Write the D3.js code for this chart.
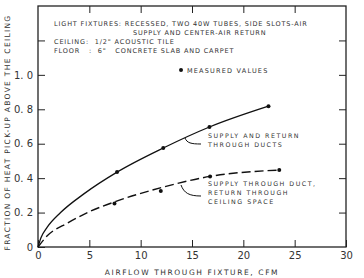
<!DOCTYPE html>
<html>
<head>
<meta charset="utf-8">
<script src="https://cdn.jsdelivr.net/npm/d3@7"></script>
<style>
  body { margin: 0; background: #fff; }
  svg text { font-family: "DejaVu Sans", sans-serif; fill: #333; }
</style>
</head>
<body>
<svg width="364" height="278"></svg>
<script>
// values
const xTicks = [0, 5, 10, 15, 20, 25, 30];
const yTicks = [0, 0.2, 0.4, 0.6, 0.8, 1.0, 1.2];
const yLabels = ['0', '0. 2', '0. 4', '0. 6', '0. 8', '1. 0', ''];

// supply and return through ducts
const ductCurveX = [0, 0.3, 0.9, 2.2, 4.5, 7.7, 12.2, 16.7, 22.45];
const ductCurveY = [0, 0.055, 0.115, 0.2, 0.31, 0.435, 0.575, 0.697, 0.818];
const ductPtsX = [7.7, 12.2, 16.7, 22.45];
const ductPtsY = [0.435, 0.575, 0.697, 0.818];

// supply through duct, return through ceiling space
const plenumCurveX = [0, 0.9, 2.9, 5, 7.45, 12, 16.76, 23.5];
const plenumCurveY = [0, 0.065, 0.14, 0.205, 0.262, 0.345, 0.41, 0.447];
const plenumPtsX = [7.45, 11.96, 16.76, 23.5];
const plenumPtsY = [0.253, 0.325, 0.41, 0.447];

const noteLines = [
  'LIGHT FIXTURES: RECESSED, TWO 40W TUBES, SIDE SLOTS-AIR',
  'SUPPLY AND CENTER-AIR RETURN',
  'CEILING:  1/2" ACOUSTIC TILE',
  'FLOOR   :  6"   CONCRETE SLAB AND CARPET'
];

const svg = d3.select('svg');
const m = {left: 38, right: 18, top: 6, bottom: 31};
const w = +svg.attr('width') - m.left - m.right;
const h = +svg.attr('height') - m.top - m.bottom;

const x = d3.scaleLinear().domain([0, 30]).range([0, w]);
const y = d3.scaleLinear().domain([0, 1.4]).range([h, 0]);

const g = svg.append('g').attr('transform', `translate(${m.left},${m.top})`);

// inward ticks on all four sides
const styleAxis = sel => {
  sel.select('.domain').remove();
  sel.selectAll('line').attr('stroke', '#222').attr('stroke-width', 1);
  sel.selectAll('text').style('font-size', '10px').attr('fill', '#333');
};

g.append('g').attr('transform', `translate(0,${h})`)
  .call(d3.axisBottom(x).tickValues(xTicks).tickSize(-7).tickPadding(5).tickFormat(d3.format('d')))
  .call(styleAxis);
g.append('g')
  .call(d3.axisTop(x).tickValues(xTicks.slice(1, -1)).tickSize(-7).tickFormat(''))
  .call(styleAxis);
g.append('g')
  .call(d3.axisLeft(y).tickValues(yTicks).tickSize(-7).tickPadding(5).tickFormat((d, i) => yLabels[i]))
  .call(styleAxis);
g.append('g').attr('transform', `translate(${w},0)`)
  .call(d3.axisRight(y).tickValues(yTicks.slice(1)).tickSize(-7).tickFormat(''))
  .call(styleAxis);

g.append('rect')
  .attr('width', w).attr('height', h)
  .attr('fill', 'none').attr('stroke', '#222').attr('stroke-width', 1.3);

// curves
const line = d3.line()
  .x(d => x(d[0])).y(d => y(d[1]))
  .curve(d3.curveMonotoneX);

g.append('path')
  .datum(d3.zip(ductCurveX, ductCurveY))
  .attr('d', line)
  .attr('fill', 'none').attr('stroke', '#111').attr('stroke-width', 1.3);

g.append('path')
  .datum(d3.zip(plenumCurveX, plenumCurveY))
  .attr('d', line)
  .attr('fill', 'none').attr('stroke', '#111').attr('stroke-width', 1.4)
  .attr('stroke-dasharray', '9,4');

const pts = d3.zip(ductPtsX, ductPtsY).concat(d3.zip(plenumPtsX, plenumPtsY));
g.selectAll('circle.pt')
  .data(pts)
  .enter().append('circle')
    .attr('class', 'pt')
    .attr('cx', d => x(d[0]))
    .attr('cy', d => y(d[1]))
    .attr('r', 2)
    .attr('fill', '#111');

// legend
g.append('circle')
  .attr('cx', x(13.93)).attr('cy', y(1.028)).attr('r', 2).attr('fill', '#111');
g.append('text')
  .attr('x', x(13.93) + 6).attr('y', y(1.028) + 2.5)
  .style('font-size', '6.5px').style('letter-spacing', '1.2px')
  .text('MEASURED VALUES');

// header notes
const notes = g.append('g').style('font-size', '6.5px').style('letter-spacing', '0.85px');
notes.append('text').attr('x', 16).attr('y', 20).text(noteLines[0]);
notes.append('text').attr('x', 95).attr('y', 29).text(noteLines[1]);
notes.append('text').attr('x', 16).attr('y', 38).text(noteLines[2]).attr('xml:space', 'preserve');
notes.append('text').attr('x', 16).attr('y', 46.5).text(noteLines[3]).attr('xml:space', 'preserve');

// annotations
const ann = g.append('g').style('font-size', '6.3px').style('letter-spacing', '1.5px');
ann.append('text').attr('x', 170).attr('y', 132).text('SUPPLY AND RETURN');
ann.append('text').attr('x', 170).attr('y', 141).text('THROUGH DUCTS');
ann.append('text').attr('x', 170).attr('y', 180).text('SUPPLY THROUGH DUCT,');
ann.append('text').attr('x', 170).attr('y', 189).text('RETURN THROUGH');
ann.append('text').attr('x', 170).attr('y', 198).text('CEILING SPACE');

g.append('path')
  .attr('d', 'M163,138 C153,138 149,137 147,132')
  .attr('fill', 'none').attr('stroke', '#111').attr('stroke-width', 1);
g.append('path')
  .attr('d', 'M163,190 C151,190 146,187 143,179')
  .attr('fill', 'none').attr('stroke', '#111').attr('stroke-width', 1);

// axis titles
svg.append('text')
  .attr('x', m.left + w / 2).attr('y', 275)
  .attr('text-anchor', 'middle')
  .style('font-size', '7.5px').style('letter-spacing', '1.6px')
  .text('AIRFLOW THROUGH FIXTURE, CFM');

svg.append('text')
  .attr('transform', `translate(10,${m.top + h / 2 + 6}) rotate(-90)`)
  .attr('text-anchor', 'middle')
  .style('font-size', '7.5px').style('letter-spacing', '1.3px')
  .text('FRACTION OF HEAT PICK-UP ABOVE THE CEILING');
</script>
</body>
</html>
